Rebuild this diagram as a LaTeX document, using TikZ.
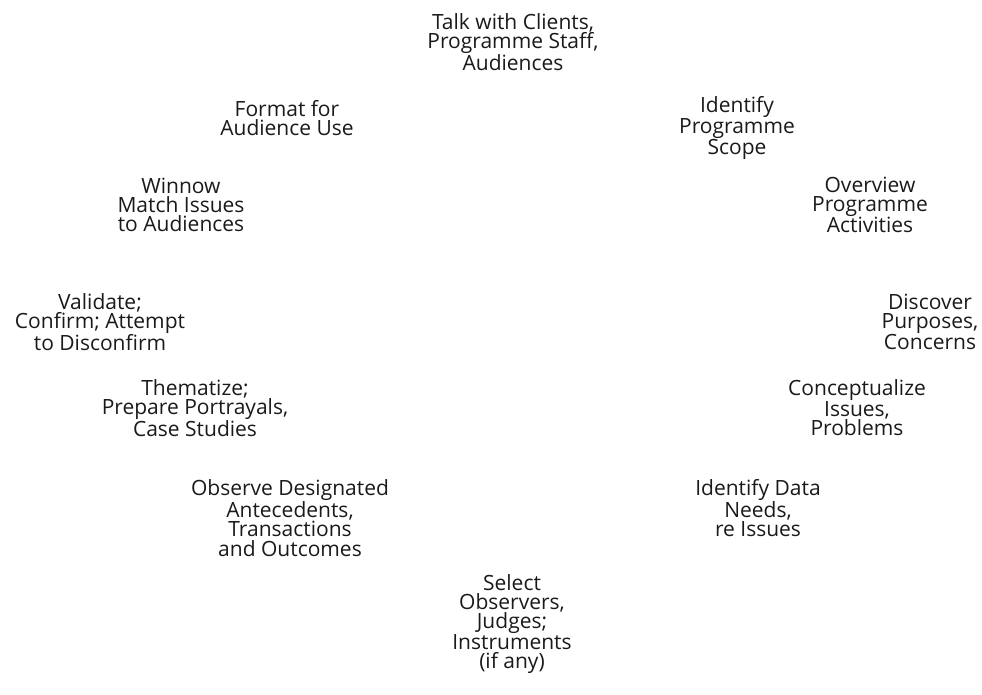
\documentclass[tikz,border=0pt]{standalone}
\usepackage{fontspec}
\setmainfont{Open Sans}
\usepackage{xcolor}
\definecolor{cText}{HTML}{1A1A1A}
\usepackage{tikz}
\usetikzlibrary{positioning}
\tikzset{
  node-step/.style={align=center,text=cText,inner sep=0pt,
    font=\fontsize{21}{19.2}\selectfont},
}

\begin{document}
\begin{tikzpicture}[x=1pt,y=-1pt]
  \useasboundingbox (0,0) rectangle (982,695);
  \node[node-step] (talk)  at (513,42)  {Talk with Clients,\\Programme Staff,\\Audiences};
  \node[node-step] (scope) at (737,128) {Identify\\Programme\\Scope};
  \node[node-step] (over)  at (870,205) {Overview\\Programme\\Activities};
  \node[node-step] (disc)  at (930,322) {Discover\\Purposes,\\Concerns};
  \node[node-step] (conc)  at (857,408) {Conceptualize\\Issues,\\Problems};
  \node[node-step] (data)  at (758,508) {Identify Data\\Needs,\\re Issues};
  \node[node-step] (sel)   at (512,624) {Select\\Observers,\\Judges;\\Instruments\\(if any)};
  \node[node-step] (obs)   at (290,518) {Observe Designated\\Antecedents,\\Transactions\\and Outcomes};
  \node[node-step] (them)  at (195,408) {Thematize;\\Prepare Portrayals,\\Case Studies};
  \node[node-step] (valid) at (100,322) {Validate;\\Confirm; Attempt\\to Disconfirm};
  \node[node-step] (win)   at (181,205) {Winnow\\Match Issues\\to Audiences};
  \node[node-step] (fmt)   at (287,118) {Format for\\Audience Use};
\end{tikzpicture}
\end{document}
